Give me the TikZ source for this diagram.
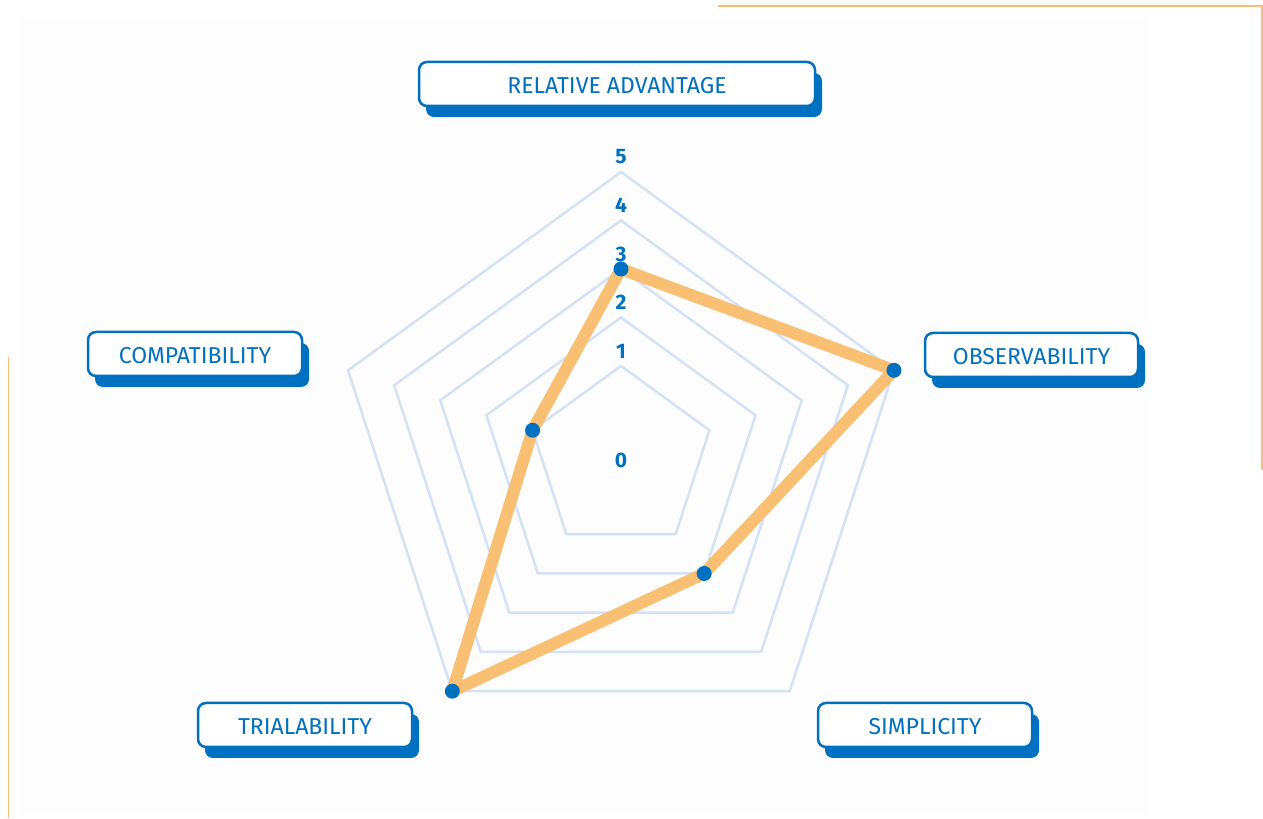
\documentclass[tikz,border=0pt]{standalone}
\usepackage{fontspec}
\setmainfont{Fira Sans}
\usetikzlibrary{shadows}
\definecolor{myblue}{RGB}{0,112,192}
\definecolor{gridblue}{RGB}{212,226,245}
\definecolor{myorange}{RGB}{249,192,115}
\definecolor{bgpanel}{RGB}{253,253,253}
\tikzset{
  lbl/.style={draw=myblue, line width=2.5pt, fill=white, rounded corners=8pt,
    minimum height=44pt, text=myblue, inner sep=0pt,
    text height=19pt, text depth=0pt,
    font=\fontsize{23}{23}\selectfont,
    general shadow={fill=myblue, shadow xshift=7pt, shadow yshift=-11pt}},
  numlbl/.style={text=myblue, inner sep=0pt, font=\bfseries\fontsize{21}{21}\selectfont},
  gridline/.style={draw=gridblue, line width=2.5pt, line join=miter},
  dataline/.style={draw=myorange, line width=12pt, line join=round},
  datadot/.style={circle, fill=myblue, minimum size=15pt, inner sep=0pt},
  frameline/.style={draw=myorange, line width=1.5pt}
}
\begin{document}
\begin{tikzpicture}[x=1pt,y=1pt]
\path[fill=white] (0,0) rectangle (1263,818);
\fill[bgpanel] (20,3) rectangle (1148,801);
\coordinate (f1) at (718,812);
\coordinate (f2) at (1262,812);
\coordinate (f3) at (1262,348);
\coordinate (f4) at (8.5,461);
\coordinate (f5) at (8.5,0);
\draw[frameline] (f1) -- (f2) -- (f3);
\draw[frameline] (f4) -- (f5);
\begin{scope}[shift={(621,359)}]
  \foreach \r in {93,141.5,190,238.5,287}
    \draw[gridline] (90:\r) -- (18:\r) -- (-54:\r) -- (-126:\r) -- (162:\r) -- cycle;
  \node[numlbl] (n0) at (0,-1) {0};
  \node[numlbl] (n1) at (0,108) {1};
  \node[numlbl] (n2) at (0,157) {2};
  \node[numlbl] (n3) at (0,205) {3};
  \node[numlbl] (n4) at (0,253.5) {4};
  \node[numlbl] (n5) at (0,302) {5};
  \coordinate (ra) at (90:190);
  \coordinate (ob) at (18:287);
  \coordinate (si) at (-54:141.5);
  \coordinate (tr) at (-126:287);
  \coordinate (co) at (162:93);
  \draw[dataline] (ra) -- (ob) -- (si) -- (tr) -- (co) -- cycle;
  \node[datadot] (dra) at (ra) {};
  \node[datadot] (dob) at (ob) {};
  \node[datadot] (dsi) at (si) {};
  \node[datadot] (dtr) at (tr) {};
  \node[datadot] (dco) at (co) {};
\end{scope}
\node[lbl, minimum width=396pt] (lra) at (617,734) {RELATIVE ADVANTAGE};
\node[lbl, minimum width=213pt] (lob) at (1031.5,463) {OBSERVABILITY};
\node[lbl, minimum width=214pt] (lco) at (195,464) {COMPATIBILITY};
\node[lbl, minimum width=214pt] (ltr) at (305,93) {TRIALABILITY};
\node[lbl, minimum width=214pt] (lsi) at (925,93) {SIMPLICITY};
\end{tikzpicture}
\end{document}
